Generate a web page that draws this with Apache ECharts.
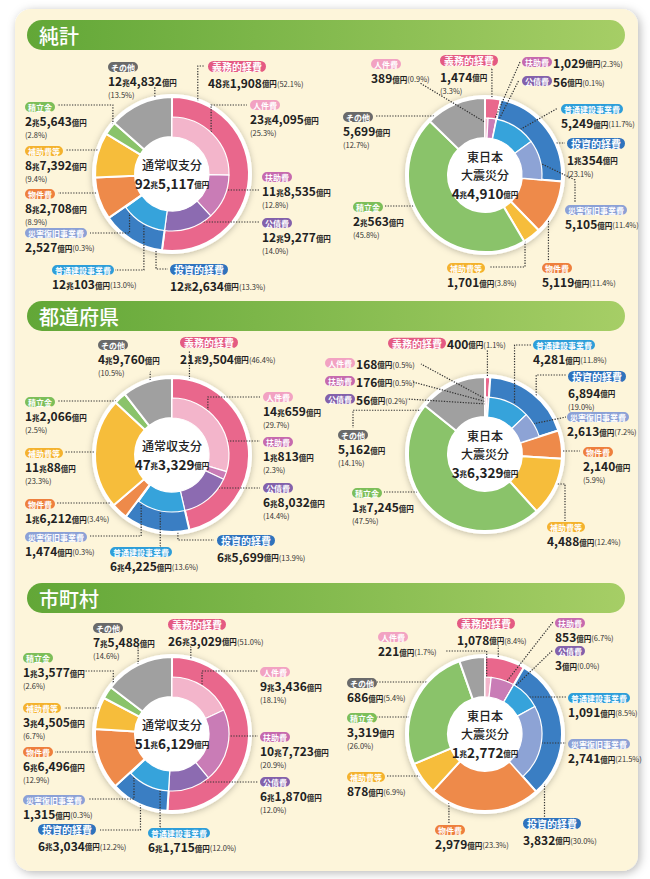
<!DOCTYPE html>
<html>
<head>
<meta charset="utf-8">
<script src="https://cdn.jsdelivr.net/npm/echarts@6/dist/echarts.min.js"></script>
<style>
html,body{margin:0;padding:0;background:#ffffff;}
#c{width:650px;height:879px;}
</style>
</head>
<body>
<div id="c"></div>
<script>
// ---------------- DATA ----------------
const sectionTitles = ['純計', '都道府県', '市町村'];
const centerTitles = ['通常収支分', '東日本\n大震災分'];
const outerCats = ['義務的経費', '投資的経費', '物件費', '補助費等', '積立金', 'その他'];
const innerCats = ['人件費', '扶助費', '公債費', '普通建設事業費', '災害復旧事業費'];

// values in 億円
const totals = [925117, 44910, 473329, 36329, 516129, 12772];

const junkeiNormalOuter = [481908, 122634, 82708, 87392, 25643, 124832];
const junkeiNormalOuterPct = ['52.1', '13.3', '8.9', '9.4', '2.8', '13.5'];
const junkeiNormalInner = [234095, 118535, 129277, 120103, 2527];
const junkeiNormalInnerPct = ['25.3', '12.8', '14.0', '13.0', '0.3'];

const junkeiQuakeOuter = [1474, 10354, 5119, 1701, 20563, 5699];
const junkeiQuakeOuterPct = ['3.3', '23.1', '11.4', '3.8', '45.8', '12.7'];
const junkeiQuakeInner = [389, 1029, 56, 5249, 5105];
const junkeiQuakeInnerPct = ['0.9', '2.3', '0.1', '11.7', '11.4'];

const prefNormalOuter = [219504, 65699, 16212, 110088, 12066, 49760];
const prefNormalOuterPct = ['46.4', '13.9', '3.4', '23.3', '2.5', '10.5'];
const prefNormalInner = [140659, 10813, 68032, 64225, 1474];
const prefNormalInnerPct = ['29.7', '2.3', '14.4', '13.6', '0.3'];

const prefQuakeOuter = [400, 6894, 2140, 4488, 17245, 5162];
const prefQuakeOuterPct = ['1.1', '19.0', '5.9', '12.4', '47.5', '14.1'];
const prefQuakeInner = [168, 176, 56, 4281, 2613];
const prefQuakeInnerPct = ['0.5', '0.5', '0.2', '11.8', '7.2'];

const muniNormalOuter = [263029, 63034, 66496, 34505, 13577, 75488];
const muniNormalOuterPct = ['51.0', '12.2', '12.9', '6.7', '2.6', '14.6'];
const muniNormalInner = [93436, 107723, 61870, 61715, 1315];
const muniNormalInnerPct = ['18.1', '20.9', '12.0', '12.0', '0.3'];

const muniQuakeOuter = [1078, 3832, 2979, 878, 3319, 686];
const muniQuakeOuterPct = ['8.4', '30.0', '23.3', '6.9', '26.0', '5.4'];
const muniQuakeInner = [221, 853, 3, 1091, 2741];
const muniQuakeInnerPct = ['1.7', '6.7', '0.0', '8.5', '21.5'];

// ---------------- STYLE / LAYOUT ----------------
const FONT = '"Noto Sans CJK JP","Noto Sans",sans-serif';
const outerColors = ['#E9678C', '#3A7EC3', '#EE8A4A', '#F6BD3B', '#8AC36A', '#A0A0A0'];
const innerColors = ['#F3B5CB', '#C97CB6', '#8C6BB1', '#36A3DB', '#8DA3D5'];
const outerTagColors = ['#E45A83', '#2F73BD', '#EE7F3D', '#F4B22E', '#7CBE59', '#6A6A6A'];
const innerTagColors = ['#F2A2C2', '#C66AAE', '#8361AB', '#2E9ED9', '#8CA1D6'];

const R = 77, RH = 37, RI = 57;
const CENTERS = [[172, 174], [485, 175], [172, 455], [485, 454], [172, 734], [485, 734]];
const HEADER_Y = [20, 301, 583];

// label spec: [tagX, tagTop, format, endX, endY, mode, angleFrac, radius, kinkY]
const LABELS = [
  [ // 純計 通常
    [208, 61, '2', 205, 66, 'e', .117, 69],
    [170, 264, '2', 168, 269, 'e', .127, 68],
    [25, 189, '3', 58, 193, 'e', .46, 53],
    [25, 146, '3', 66, 150, 'e', .68, 66],
    [25, 102, '3', 57, 105, 'e', .34, 72],
    [108, 62, '3', 155, 87, 'e', .69, 66],
    [250, 100, '3', 247, 105, 'e', .565, 50],
    [262, 172, '3', 259, 190, 'e', .4, 48],
    [262, 218, '3', 259, 222, 'e', .485, 48],
    [52, 265, '2', 115, 270, 'e', .51, 54],
    [25, 228, '2', 90, 233, 'e', .5, 52]
  ],
  [ // 純計 東日本
    [440, 55, '3', 492, 69, 'e', .48, 70],
    [567, 138, '3', 565, 143, 'e', .62, 69],
    [542, 263, '2', 549, 261, 'e', .34, 67],
    [447, 263, '2', 489, 267, 'e', .5, 66],
    [353, 202, '3', 385, 206, 'e', .54, 59],
    [343, 112, '3', 375, 116, 'e', .3, 68],
    [371, 59, '2', 420, 83, 's', .5, 52],
    [522, 57, 'i', 520, 62, 's', .5, 48],
    [522, 76, 'i', 519, 80, 's', .5, 48],
    [561, 104, '2', 558, 108, 's', .5, 48],
    [565, 205, '2', 575, 203, 'k', .49, 52, 180]
  ],
  [ // 都道府県 通常
    [180, 337, '2', 190, 351, 'e', .084, 72],
    [217, 535, '2', 214, 540, 'e', .16, 67],
    [25, 499, '2', 57, 503, 'e', .5, 57],
    [25, 448, '3', 65, 452, 'e', .52, 62],
    [25, 397, '3', 57, 401, 'e', .52, 70],
    [98, 340, '3', 150, 372, 'e', .52, 70],
    [263, 392, '3', 260, 397, 'e', .44, 49],
    [263, 437, '3', 260, 441, 'e', .6, 52],
    [263, 483, '3', 260, 488, 'e', .6, 48],
    [110, 547, '2', 160, 546, 'e', .54, 51],
    [25, 532, '2', 90, 536, 'e', .5, 52]
  ],
  [ // 都道府県 東日本
    [388, 337, 'i', 486, 351, 'e', .5, 70],
    [568, 371, '3', 566, 375, 'e', .63, 70],
    [583, 447, '3', 580, 451, 'e', .71, 62],
    [547, 522, '2', 565, 521, 'e2', .55, 64],
    [352, 488, '3', 384, 492, 'e', .56, 62],
    [338, 430, '3', 353, 428, 'e2', .27, 55],
    [325, 358, 'i', 421, 364, 's', .5, 55],
    [325, 376, 'i', 413, 382, 's', .5, 52],
    [325, 394, 'i', 407, 399, 's', .5, 50],
    [533, 340, '2', 531, 345, 'e', .76, 50],
    [567, 412, '2', 566, 417, 's', .37, 52]
  ],
  [ // 市町村 通常
    [168, 619, '2', 191, 647, 'e', .085, 70],
    [38, 824, '2', 100, 830, 'e', .53, 70],
    [23, 747, '3', 55, 752, 'e', .54, 60],
    [23, 703, '3', 64, 708, 'e', .7, 62],
    [23, 653, '3', 84, 671, 'e', .54, 70],
    [93, 623, '3', 138, 646, 'e', .45, 70],
    [260, 667, '3', 258, 671, 'e', .58, 49],
    [260, 732, '3', 258, 736, 'e', .36, 48],
    [260, 777, '3', 258, 782, 'e', .5, 49],
    [148, 828, '2', 160, 827, 'e', .24, 50],
    [23, 795, '2', 88, 799, 'e', .5, 52]
  ],
  [ // 市町村 東日本
    [457, 618, '2', 499, 646, 'e', .36, 70],
    [523, 818, '2', 544, 817, 'e', .82, 68],
    [435, 825, '2', 449, 823, 'e', .89, 66],
    [347, 772, '2', 387, 776, 'e', .37, 66],
    [347, 713, '3', 377, 717, 'e', .41, 64],
    [347, 678, '2', 377, 682, 'e', .44, 53],
    [378, 632, '2', 445, 651, 'e', .3, 52],
    [555, 618, '2', 553, 622, 's', .58, 50],
    [555, 646, '2', 553, 650, 's', .5, 50],
    [568, 693, '2', 566, 697, 'e', .42, 50],
    [568, 739, '2', 566, 743, 'e', .5, 52]
  ]
];

const charts = [
  {kind: 0, total: totals[0], outer: junkeiNormalOuter, outerPct: junkeiNormalOuterPct, inner: junkeiNormalInner, innerPct: junkeiNormalInnerPct},
  {kind: 1, total: totals[1], outer: junkeiQuakeOuter, outerPct: junkeiQuakeOuterPct, inner: junkeiQuakeInner, innerPct: junkeiQuakeInnerPct},
  {kind: 0, total: totals[2], outer: prefNormalOuter, outerPct: prefNormalOuterPct, inner: prefNormalInner, innerPct: prefNormalInnerPct},
  {kind: 1, total: totals[3], outer: prefQuakeOuter, outerPct: prefQuakeOuterPct, inner: prefQuakeInner, innerPct: prefQuakeInnerPct},
  {kind: 0, total: totals[4], outer: muniNormalOuter, outerPct: muniNormalOuterPct, inner: muniNormalInner, innerPct: muniNormalInnerPct},
  {kind: 1, total: totals[5], outer: muniQuakeOuter, outerPct: muniQuakeOuterPct, inner: muniQuakeInner, innerPct: muniQuakeInnerPct}
];

// ---------------- HELPERS ----------------
function fmtNum(n) { return n.toLocaleString('en-US'); }
function yen(v) {
  const cho = Math.floor(v / 10000), oku = v % 10000;
  let s = '';
  if (cho) s += '{n|' + cho + '}{u|兆}';
  s += '{n|' + fmtNum(oku) + '}{u|億円}';
  return s;
}
function sliceAngles(values) {
  const tot = values.reduce((a, b) => a + b, 0);
  let acc = 0;
  return values.map(v => { const s = acc / tot * 360; acc += v; return [s, acc / tot * 360]; });
}

const MAIN_LH = 16.5, MAIN_BOX = 11, SMALL_LH = 12, SMALL_BOX = 10;
const RICH = {
  n: {fontSize: 12, fontWeight: 'bold', fontFamily: FONT, color: '#222', lineHeight: 15},
  u: {fontSize: 7.5, fontWeight: 'bold', fontFamily: FONT, color: '#222', lineHeight: 15, padding: [3, 0, 0, 0]},
  p: {fontSize: 7.5, fontFamily: FONT, color: '#333', lineHeight: 11, padding: [2, 0, 0, 0]},
  sp: {fontSize: 5, lineHeight: 15}
};
outerTagColors.forEach((c, i) => {
  const main = i < 2;
  RICH['to' + i] = main
    ? {backgroundColor: c, color: '#fff', fontFamily: FONT, fontWeight: 'bold',
       fontSize: 10, lineHeight: MAIN_LH, padding: [0.5, 4, 0.5, 4], borderRadius: 6}
    : {backgroundColor: c, color: '#fff', fontFamily: FONT, fontWeight: 'bold',
       fontSize: 8, lineHeight: SMALL_LH, padding: [1, 3, 1, 3], borderRadius: 5};
});
innerTagColors.forEach((c, i) => {
  RICH['ti' + i] = {
    backgroundColor: c, color: '#fff', fontFamily: FONT, fontWeight: 'bold',
    fontSize: 8, lineHeight: SMALL_LH, padding: [1, 3, 1, 3], borderRadius: 5
  };
});

const CENTER_RICH = {
  a: {fontSize: 12, fontFamily: FONT, fontWeight: 500, color: '#222', lineHeight: 17.5},
  n: {fontSize: 13.5, fontFamily: FONT, fontWeight: 'bold', color: '#222', lineHeight: 19},
  u: {fontSize: 7.5, fontFamily: FONT, fontWeight: 'bold', color: '#222', lineHeight: 19, padding: [3, 0, 0, 0]}
};

// ---------------- SERIES ----------------
const META = [];
const series = [];

function labelText(m, idx) {
  const ch = charts[m.chart];
  const isOuter = m.ring === 'outer';
  const name = isOuter ? outerCats[idx] : innerCats[idx];
  const v = isOuter ? ch.outer[idx] : ch.inner[idx];
  const pct = isOuter ? ch.outerPct[idx] : ch.innerPct[idx];
  const spec = LABELS[m.chart][isOuter ? idx : 6 + idx];
  const tag = '{' + (isOuter ? 'to' : 'ti') + idx + '|' + name + '}';
  const p = '{p|(' + pct + '%)}';
  if (spec[2] === 'i') return tag + '{sp| }' + yen(v) + p;
  if (spec[2] === '2') return tag + '\n' + yen(v) + p;
  return tag + '\n' + yen(v) + '\n' + p;
}

function layoutFn(params) {
  const m = META[params.seriesIndex];
  if (!m) return {};
  const idx = params.dataIndex;
  const isOuter = m.ring === 'outer';
  if (!isOuter && idx > 4) return {};
  const spec = LABELS[m.chart][isOuter ? idx : 6 + idx];
  const [cx, cy] = CENTERS[m.chart];
  const ang = m.angles[idx];
  const th = (ang[0] + spec[6] * (ang[1] - ang[0])) * Math.PI / 180;
  const A = [cx + spec[7] * Math.sin(th), cy - spec[7] * Math.cos(th)];
  const E = [spec[3], spec[4]];
  let pts;
  if (spec[5] === 'e') pts = [A, [A[0], E[1]], E];
  else if (spec[5] === 'e2') pts = [A, [E[0], A[1]], E];
  else if (spec[5] === 'k') pts = [A, [E[0], spec[8]], E];
  else pts = [A, E];
  const main = isOuter && idx < 2;
  const boxH = main ? MAIN_BOX : SMALL_BOX;
  const lineH = spec[2] === 'i' ? 15 : (main ? MAIN_LH : SMALL_LH);
  return {
    x: spec[0], y: spec[1] - (lineH - boxH) / 2,
    align: 'left', verticalAlign: 'top',
    labelLinePoints: pts
  };
}

charts.forEach((ch, c) => {
  const center = CENTERS[c];
  // white frame disc behind the rings
  series.push({
    type: 'pie', z: 1, silent: true, center: center, radius: [0, R + 3], startAngle: 90,
    emphasis: {disabled: true},
    itemStyle: {color: '#ffffff', shadowBlur: 6, shadowColor: 'rgba(0,0,0,0.25)', shadowOffsetY: 1},
    label: {show: false}, labelLine: {show: false},
    data: [{value: ch.total, name: centerTitles[ch.kind]}]
  });
  META.push(null);

  const outerData = ch.outer.map((v, i) => ({value: v, name: outerCats[i], itemStyle: {color: outerColors[i]}}));
  series.push({
    type: 'pie', z: 2, silent: true, center: center, radius: [RH, R], startAngle: 90, clockwise: true,
    avoidLabelOverlap: false, minShowLabelAngle: 0,
    emphasis: {disabled: true},
    itemStyle: {borderColor: '#ffffff', borderWidth: 2},
    label: {show: true, position: 'outside', rich: RICH, fontFamily: FONT, color: '#222',
      formatter: (p) => labelText(META[p.seriesIndex], p.dataIndex)},
    labelLine: {show: true, smooth: false, lineStyle: {color: '#333', width: 1.2, type: [1.3, 1.4]}},
    labelLayout: layoutFn,
    data: outerData
  });
  META.push({chart: c, ring: 'outer', angles: sliceAngles(ch.outer)});

  const innerVals = ch.inner.concat(ch.outer.slice(2));
  const innerData = innerVals.map((v, i) => i < 5
    ? {value: v, name: innerCats[i], itemStyle: {color: innerColors[i]}}
    : {value: v, name: outerCats[i - 3], itemStyle: {color: 'rgba(0,0,0,0)', borderWidth: 0},
       label: {show: false}, labelLine: {show: false}});
  series.push({
    type: 'pie', z: 3, silent: true, center: center, radius: [RH, RI], startAngle: 90, clockwise: true,
    avoidLabelOverlap: false, minShowLabelAngle: 0,
    emphasis: {disabled: true},
    itemStyle: {borderColor: '#ffffff', borderWidth: 1.2},
    label: {show: true, position: 'outside', rich: RICH, fontFamily: FONT, color: '#222',
      formatter: (p) => p.dataIndex < 5 ? labelText(META[p.seriesIndex], p.dataIndex) : ''},
    labelLine: {show: true, smooth: false, lineStyle: {color: '#333', width: 1.2, type: [1.3, 1.4]}},
    labelLayout: layoutFn,
    data: innerData
  });
  META.push({chart: c, ring: 'inner', angles: sliceAngles(innerVals)});

  // white hub carrying the total in its centre
  series.push({
    type: 'pie', z: 4, silent: true, center: center, radius: [0, RH - 0.5], startAngle: 90,
    emphasis: {disabled: true},
    itemStyle: {color: '#ffffff'},
    label: {
      show: true, position: 'center', rich: CENTER_RICH,
      formatter: (p) => p.name.split('\n').map(s => '{a|' + s + '}').join('\n') + '\n' + yen(p.value)
    },
    labelLine: {show: false},
    data: [{value: ch.total, name: centerTitles[ch.kind]}]
  });
  META.push(null);
});

// ---------------- DECORATION ----------------
const elements = [
  {type: 'rect', z: -10, shape: {x: 15, y: 9, width: 623, height: 862, r: 16},
   style: {fill: '#FDF5DA', shadowBlur: 10, shadowColor: 'rgba(0,0,0,0.28)', shadowOffsetX: 2, shadowOffsetY: 2}}
];
HEADER_Y.forEach((y, i) => {
  elements.push({type: 'rect', z: -9, shape: {x: 27, y: y, width: 598, height: 30, r: 15},
    style: {fill: new echarts.graphic.LinearGradient(0, 0, 1, 0, [
      {offset: 0, color: '#62A737'}, {offset: 1, color: '#A6CE66'}])}});
  elements.push({type: 'text', z: -8, x: 39, y: y + 15,
    style: {text: sectionTitles[i], fill: '#ffffff', fontSize: 20, fontFamily: FONT, fontWeight: 500,
      verticalAlign: 'middle', align: 'left'}});
});

const chart = echarts.init(document.getElementById('c'), null, {renderer: 'svg'});
chart.setOption({
  animation: false,
  backgroundColor: '#ffffff',
  graphic: {elements: elements},
  series: series
});
</script>
</body>
</html>
